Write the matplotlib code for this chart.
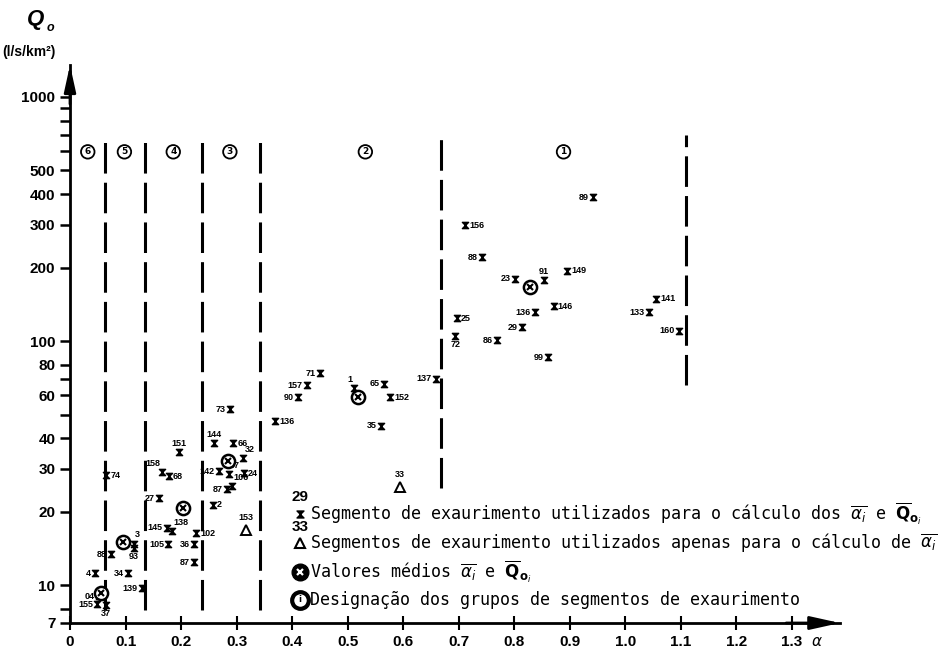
import matplotlib
matplotlib.use("Agg")
import matplotlib.pyplot as plt
from matplotlib.path import Path
from matplotlib.lines import Line2D

# recession segments used for both mean alpha and mean Q0 (label, alpha, Q0 in l/s/km2)
used_ids = ["89", "156", "88", "91", "149", "23", "146", "136", "141", "133",
            "25", "29", "72", "86", "160", "99", "137",
            "71", "157", "90", "136", "1", "65", "152", "35",
            "73", "144", "66", "32", "97", "24", "142", "87", "106", "2",
            "151", "158", "68", "27", "145", "138", "102", "105", "36", "87",
            "74", "88", "3", "93", "34", "139",
            "4", "04", "155", "37"]
used_a = [0.942, 0.712, 0.742, 0.854, 0.895, 0.802, 0.871, 0.838, 1.056, 1.043,
          0.697, 0.814, 0.694, 0.769, 1.097, 0.861, 0.659,
          0.450, 0.427, 0.411, 0.369, 0.512, 0.566, 0.577, 0.560,
          0.288, 0.259, 0.294, 0.312, 0.286, 0.313, 0.268, 0.282, 0.291, 0.257,
          0.196, 0.166, 0.178, 0.160, 0.174, 0.183, 0.227, 0.177, 0.223, 0.223,
          0.065, 0.074, 0.115, 0.115, 0.105, 0.130,
          0.045, 0.052, 0.049, 0.065]
used_q = [389, 298, 221, 178, 194, 180, 139, 131, 149, 131,
          124, 114, 105, 101, 110, 86, 70,
          74, 66, 59, 47, 64, 67, 59, 45,
          52.6, 38.2, 38.2, 33.1, 28.5, 28.8, 29.3, 24.7, 25.4, 21.4,
          35, 29.1, 27.9, 22.7, 17.2, 16.7, 16.3, 14.7, 14.7, 12.4,
          28.2, 13.4, 14.8, 14.2, 11.2, 9.7,
          11.2, 9.0, 8.36, 8.28]
# where each number sits relative to its marker
used_side = ["l", "r", "l", "a", "r", "l", "r", "l", "r", "l",
             "r", "l", "b", "l", "l", "l", "l",
             "l", "l", "l", "r", "al", "l", "r", "l",
             "l", "a", "r", "ar", "ar", "r", "l", "l", "ar", "r",
             "a", "al", "r", "l", "l", "ar", "r", "l", "l", "l",
             "r", "l", "ar", "b", "l", "l",
             "l", "l", "l", "b"]

# segments used only for mean alpha
tri_ids = ["33", "153"]
tri_a = [0.595, 0.317]
tri_q = [25.2, 16.8]

# group means
mean_a = [0.829, 0.519, 0.285, 0.204, 0.096, 0.056]
mean_q = [166, 59, 32.2, 20.7, 15.0, 9.27]

# group boundaries
div_a = [0.063, 0.135, 0.238, 0.342, 0.668, 1.110]
div_top = [700, 700, 700, 700, 700, 700]
div_bot = [7.9, 7.9, 7.9, 7.9, 25, 66]

group_names = ["1", "2", "3", "4", "5", "6"]
group_a = [0.889, 0.532, 0.288, 0.186, 0.098, 0.032]
group_q = 596

yticks = [7, 10, 20, 30, 40, 60, 80, 100, 200, 300, 400, 500, 1000]
yminor = [8, 50, 70, 600, 700, 800, 900]
xticks = [0, 0.1, 0.2, 0.3, 0.4, 0.5, 0.6, 0.7, 0.8, 0.9, 1.0, 1.1, 1.2, 1.3]
xlabels = ["0", "0.1", "0.2", "0.3", "0.4", "0.5", "0.6", "0.7", "0.8", "0.9",
           "1.0", "1.1", "1.2", "1.3"]

W, H = 946, 655
fig = plt.figure(figsize=(W / 100, H / 100), dpi=100)
ax = fig.add_axes([70 / W, 32 / H, 770 / W, 558 / H])
ax.set_yscale("log")
ax.set_xlim(0, 1.387)
ax.set_ylim(7, 1352)
for s in ("top", "right"):
    ax.spines[s].set_visible(False)
for s in ("left", "bottom"):
    ax.spines[s].set_linewidth(2)

ax.set_yticks(yticks, labels=[str(t) for t in yticks])
ax.set_yticks(yminor, minor=True)
ax.yaxis.set_minor_formatter(plt.NullFormatter())
ax.set_xticks(xticks, labels=xlabels)
ax.tick_params(axis="y", which="both", direction="out", length=7, width=1.8,
               labelsize=11)
ax.tick_params(axis="x", direction="inout", length=10, width=1.5, labelsize=11)
for lab in ax.get_xticklabels() + ax.get_yticklabels():
    lab.set_fontweight("bold")
    lab.set_family("Liberation Sans")

# arrow heads on axes
ax.annotate("", xy=(0, 1.0), xytext=(0, 0.93), xycoords="axes fraction",
            arrowprops=dict(arrowstyle="-|>,head_length=1.6,head_width=0.35",
                            color="k", lw=2, shrinkA=0, shrinkB=0))
ax.annotate("", xy=(1.0, 0), xytext=(0.93, 0), xycoords="axes fraction",
            arrowprops=dict(arrowstyle="-|>,head_length=1.8,head_width=0.4",
                            color="k", lw=2, shrinkA=0, shrinkB=0))

hourglass = Path([(-1, 1), (1, 1), (-1, -1), (1, -1), (-1, 1)],
                 [Path.MOVETO, Path.LINETO, Path.LINETO, Path.LINETO, Path.CLOSEPOLY])

for a, lo, hi in zip(div_a, div_bot, div_top):
    ax.plot([a, a], [lo, hi], color="k", lw=2.2, dashes=(10, 3),
            solid_capstyle="butt")

ax.plot(used_a, used_q, ls="none", marker=hourglass, ms=4.5, color="k")

offs = {"l": ((-3, 0), "right", "center"), "r": ((3, 0), "left", "center"),
        "a": ((0, 3), "center", "bottom"), "b": ((0, -3), "center", "top"),
        "al": ((-1, 3), "right", "bottom"), "ar": ((1, 3), "left", "bottom")}
for name, a, q, side in zip(used_ids, used_a, used_q, used_side):
    (dx, dy), ha, va = offs[side]
    ax.annotate(name, (a, q), xytext=(dx, dy), textcoords="offset points",
                ha=ha, va=va, fontsize=6.5, fontweight="bold",
                family="Liberation Sans")

ax.plot(tri_a, tri_q, ls="none", marker="^", ms=7, mfc="white", mec="k", mew=1.4)
for name, a, q in zip(tri_ids, tri_a, tri_q):
    ax.annotate(name, (a, q), xytext=(0, 6), textcoords="offset points",
                ha="center", va="bottom", fontsize=6.5, fontweight="bold",
                family="Liberation Sans")

ax.plot(mean_a, mean_q, ls="none", marker="o", ms=9.5, mfc="white", mec="k",
        mew=1.8, zorder=4)
ax.plot(mean_a, mean_q, ls="none", marker="x", ms=4.5, color="k", mew=1.5,
        zorder=5)

for name, a in zip(group_names, group_a):
    ax.text(a, group_q, name, ha="center", va="center", fontsize=6.5,
            fontweight="bold",
            bbox=dict(boxstyle="circle,pad=0.25", fc="white", ec="k", lw=1.3))


def fpos(x, y):
    return x / W, 1 - y / H


# axis titles
fig.text(*fpos(27, 20), "Q", fontsize=16, fontweight="bold", fontstyle="italic",
         ha="left", va="center", family="Liberation Sans")
fig.text(*fpos(47, 28), "o", fontsize=9, fontweight="bold", fontstyle="italic",
         ha="left", va="center", family="Liberation Sans")
fig.text(*fpos(2, 52), "(l/s/km²)", fontsize=10, fontweight="bold",
         ha="left", va="center", family="Liberation Sans")
fig.text(*fpos(812, 641), "α", fontsize=11, fontstyle="italic",
         ha="left", va="center")

# legend
mono = "DejaVu Sans Mono"
fig.text(*fpos(300, 497), "29", fontsize=11, fontweight="bold", ha="center",
         va="center", family="Liberation Sans")
fig.text(*fpos(300, 527), "33", fontsize=11, fontweight="bold", ha="center",
         va="center", family="Liberation Sans")
fig.add_artist(Line2D([300 / W], [1 - 514 / H], marker=hourglass, ms=5,
                      color="k", ls="none"))
fig.add_artist(Line2D([300 / W], [1 - 543 / H], marker="^", ms=7, mfc="white",
                      mec="k", mew=1.5, ls="none"))
fig.add_artist(Line2D([300 / W], [1 - 572 / H], marker="o", ms=12, color="k",
                      ls="none"))
fig.add_artist(Line2D([300 / W], [1 - 572 / H], marker="x", ms=5, color="white",
                      mew=1.6, ls="none"))
fig.add_artist(Line2D([300 / W], [1 - 600 / H], marker="o", ms=12, mfc="white",
                      mec="k", mew=3, ls="none"))
fig.text(*fpos(300, 600), "i", fontsize=6, fontweight="bold", ha="center",
         va="center")

fig.text(*fpos(310, 514),
         r"Segmento de exaurimento utilizados para o cálculo dos $\overline{\alpha_i}$ e $\overline{\mathbf{Q}}_{\mathbf{o}_i}$",
         fontsize=12, family=mono, ha="left", va="center")
fig.text(*fpos(310, 543),
         r"Segmentos de exaurimento utilizados apenas para o cálculo de $\overline{\alpha_i}$",
         fontsize=12, family=mono, ha="left", va="center")
fig.text(*fpos(310, 572),
         r"Valores médios $\overline{\alpha_i}$ e $\overline{\mathbf{Q}}_{\mathbf{o}_i}$",
         fontsize=12, family=mono, ha="left", va="center")
fig.text(*fpos(310, 600),
         "Designação dos grupos de segmentos de exaurimento",
         fontsize=12, family=mono, ha="left", va="center")

fig.savefig("out.png", dpi=100)
